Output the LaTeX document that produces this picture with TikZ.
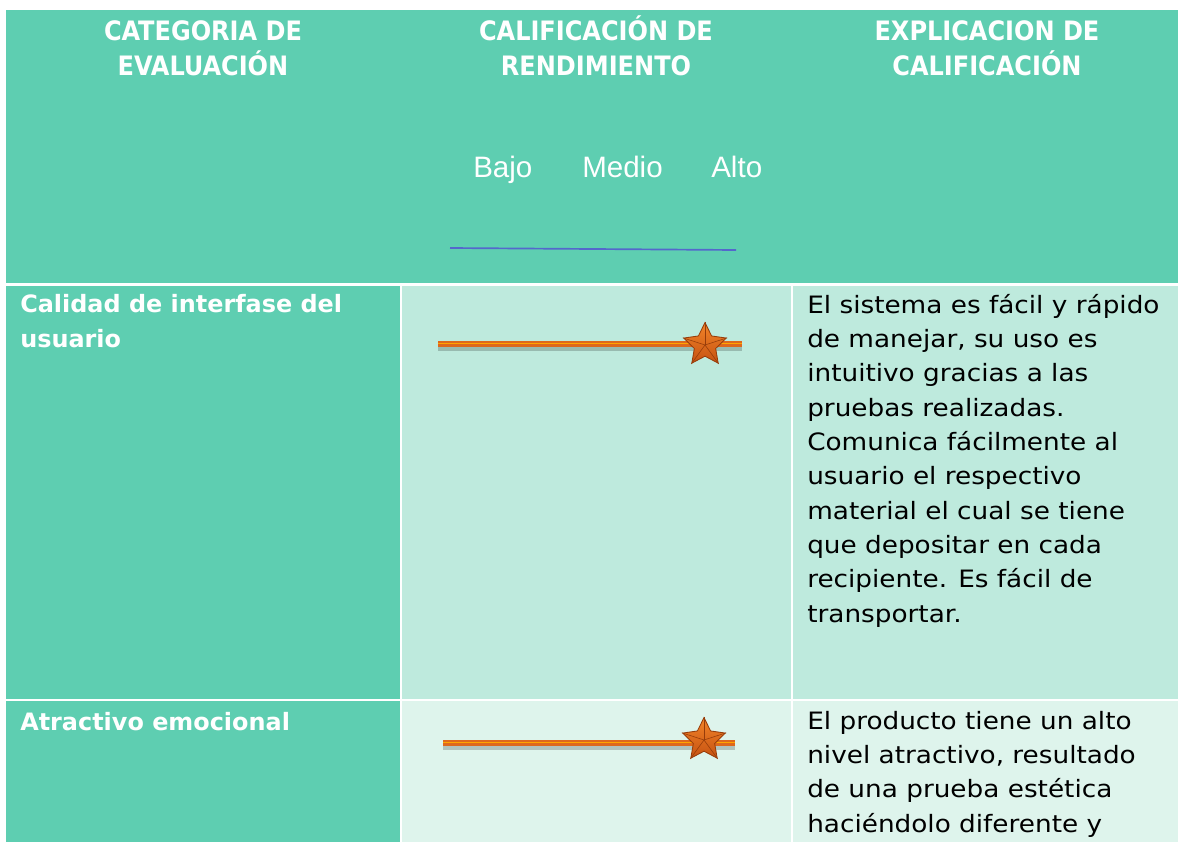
\documentclass[tikz,border=0pt]{standalone}
\usepackage{fontspec}
\setmainfont{DejaVu Sans Condensed}
\newfontfamily\arialfont{Liberation Sans}
\newfontfamily\catfont{DejaVu Sans}
\newfontfamily\expfont[FakeStretch=1.1]{DejaVu Sans}
\usetikzlibrary{shapes.geometric}
\definecolor{hdrgreen}{RGB}{94,206,177}
\definecolor{rowone}{RGB}{190,234,221}
\definecolor{rowtwo}{RGB}{222,244,236}
\definecolor{barorange}{RGB}{222,104,28}
\definecolor{bardark}{RGB}{150,60,10}
\definecolor{starlight}{RGB}{242,132,40}
\definecolor{stardeep}{RGB}{198,82,18}
\definecolor{scaleblue}{RGB}{84,104,204}

\begin{document}
\begin{tikzpicture}[x=0.025cm, y=-0.025cm]
    \tikzset{%
      hdr/.style={text=white, font=\bfseries\fontsize{19}{24.2}\selectfont, align=center, anchor=base, inner sep=0pt},
      cat/.style={text=white, font=\catfont\bfseries\fontsize{17}{24.2}\selectfont, align=left, anchor=base west, inner sep=0pt},
      expl/.style={text=black, font=\expfont\fontsize{17}{24.4}\selectfont, align=left, anchor=base west, inner sep=0pt},
      lvl/.style={text=white, font=\arialfont\fontsize{21}{24}\selectfont, anchor=base west, inner sep=0pt},
      bar/.style={line width=3.6pt, barorange},
      barshadow/.style={line width=4pt, black, opacity=0.2},
      rate/.style={star, star points=5, star point ratio=2.0, minimum size=1.12cm, inner sep=0pt,
        draw=bardark, line width=0.6pt, top color=starlight, bottom color=stardeep}
      }
    \useasboundingbox (0,0) rectangle (1178,842);

    % cells
    \fill[hdrgreen] (6,10) rectangle (1178,283);
    \fill[hdrgreen] (6,286) rectangle (400,699);
    \fill[rowone] (402,286) rectangle (791,699);
    \fill[rowone] (793,286) rectangle (1178,699);
    \fill[hdrgreen] (6,701) rectangle (400,842);
    \fill[rowtwo] (402,701) rectangle (791,842);
    \fill[rowtwo] (793,701) rectangle (1178,842);

    % header (base = last line)
    \node [hdr] (Hcat) at (203,75) {CATEGORIA DE\\EVALUACIÓN};
    \node [hdr] (Hcal) at (596,75) {CALIFICACIÓN DE\\RENDIMIENTO};
    \node [hdr] (Hexp) at (987,75) {EXPLICACION DE\\CALIFICACIÓN};

    \node [lvl] (Lbajo) at (473,177) {Bajo};
    \node [lvl] (Lmedio) at (582,177) {Medio};
    \node [lvl] (Lalto) at (711,177) {Alto};
    \coordinate (Sw) at (450,248);
    \coordinate (Se) at (736,250);
    \draw [scaleblue, line width=1.2pt] (Sw) -- (Se);

    % first row
    \node [cat] (Cint) at (20,347) {Calidad de interfase del\\usuario};
    \coordinate (Aw) at (438,344);
    \coordinate (Ae) at (742,344);
    \draw [barshadow] ([yshift=-3pt]Aw) -- ([yshift=-3pt]Ae);
    \draw [bar] (Aw) -- (Ae);
    \draw [orange!70!yellow, line width=0.8pt] ([yshift=0.6pt]Aw) -- ([yshift=0.6pt]Ae);
    \node [rate] (Astar) at (705,345) {};
    \foreach \i in {1,...,5}
      \draw [bardark, line width=0.4pt] (Astar.center) -- (Astar.outer point \i);
    \node [expl] (Eint) at (807,622) {El sistema es fácil y rápido\\de manejar, su uso es\\intuitivo gracias a las\\pruebas realizadas.\\Comunica fácilmente al\\usuario el respectivo\\material el cual se tiene\\que depositar en cada\\recipiente. Es fácil de\\transportar.};

    % second row
    \node [cat] (Cemo) at (20,730) {Atractivo emocional};
    \coordinate (Bw) at (443,743);
    \coordinate (Be) at (735,743);
    \draw [barshadow] ([yshift=-3pt]Bw) -- ([yshift=-3pt]Be);
    \draw [bar] (Bw) -- (Be);
    \draw [orange!70!yellow, line width=0.8pt] ([yshift=0.6pt]Bw) -- ([yshift=0.6pt]Be);
    \node [rate] (Bstar) at (704,740) {};
    \foreach \i in {1,...,5}
      \draw [bardark, line width=0.4pt] (Bstar.center) -- (Bstar.outer point \i);
    \node [expl] (Eemo) at (807,832) {El producto tiene un alto\\nivel atractivo, resultado\\de una prueba estética\\haciéndolo diferente y};
\end{tikzpicture}
\end{document}
